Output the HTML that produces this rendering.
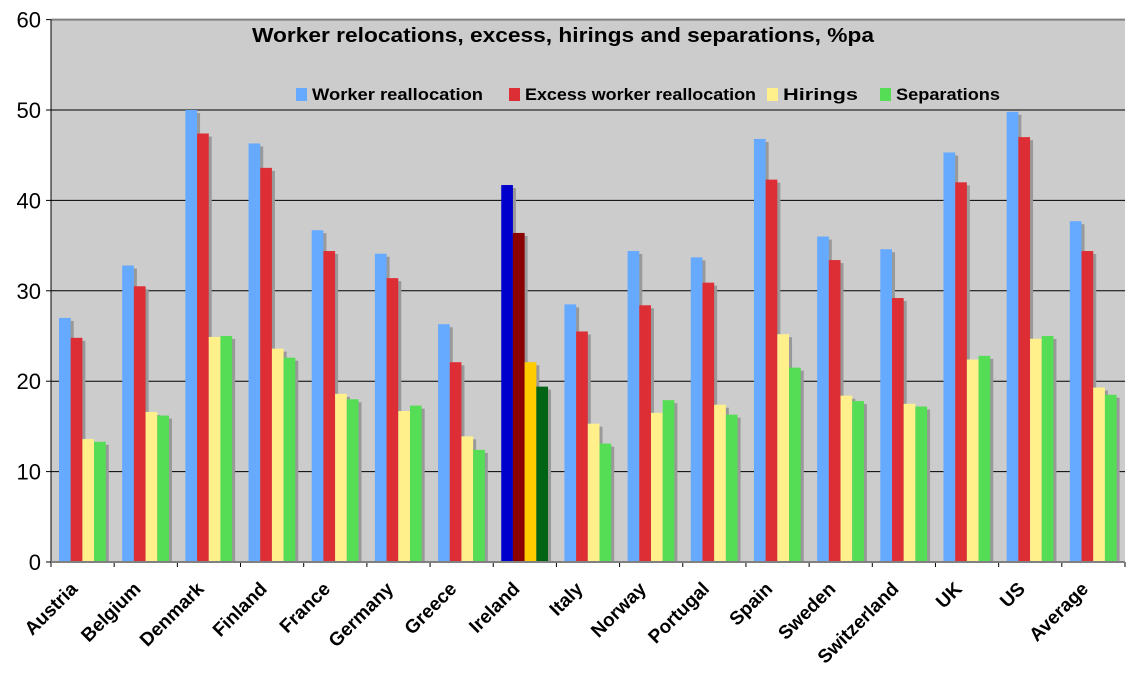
<!DOCTYPE html>
<html><head><meta charset="utf-8"><style>
body{margin:0;background:#fff;font-family:"Liberation Sans",sans-serif}
</style></head><body>
<svg id="c" width="1130" height="679" xmlns="http://www.w3.org/2000/svg"></svg>
<script>
const categories=["Austria","Belgium","Denmark","Finland","France","Germany","Greece","Ireland","Italy","Norway","Portugal","Spain","Sweden","Switzerland","UK","US","Average"];
const workerRealloc=[27,32.8,50,46.3,36.7,34.1,26.3,41.7,28.5,34.4,33.7,46.8,36,34.6,45.3,49.8,37.7];
const excessRealloc=[24.8,30.5,47.4,43.6,34.4,31.4,22.1,36.4,25.5,28.4,30.9,42.3,33.4,29.2,42,47,34.4];
const hirings=[13.6,16.6,24.9,23.6,18.6,16.7,13.9,22.1,15.3,16.5,17.4,25.2,18.4,17.5,22.4,24.7,19.3];
const separations=[13.3,16.2,25,22.6,18,17.3,12.4,19.4,13.1,17.9,16.3,21.5,17.8,17.2,22.8,25,18.5];
const yTicks=[0,10,20,30,40,50,60];
const series=[workerRealloc,excessRealloc,hirings,separations];
const names=["Worker reallocation","Excess worker reallocation","Hirings","Separations"];
const colors=["#66aaff","#dd2e35","#fff08c","#55dd55"];
const irelandColors=["#0000cc","#8b0000","#ffcc00","#006414"];
const NS="http://www.w3.org/2000/svg";
const svg=document.getElementById('c');
const L=51,R=1125,T=19.6,B=562;
const y=v=>B-(v/60)*(B-T);
const cw=(R-L)/categories.length;
const x=i=>L+i*cw;
function mk(t,a){const e=document.createElementNS(NS,t);for(const k in a)e.setAttribute(k,a[k]);svg.appendChild(e);return e;}
let e=mk('rect',{x:L,y:T,width:R-L,height:B-T,fill:'#cccccc'});

mk('line',{x1:L,y1:T,x2:R,y2:T,stroke:'#808080','stroke-width':2});
yTicks.forEach(t=>{
 if(t>0&&t<60){const g=mk('line',{x1:L,y1:y(t),x2:R,y2:y(t),stroke:'#000','stroke-width':1});}
 mk('line',{x1:L-5,y1:y(t),x2:L,y2:y(t),stroke:'#000'});
 const tx=mk('text',{x:L-10,y:y(t)+8,'text-anchor':'end','font-size':22});tx.textContent=t;
 
});
const bw=11.7;
categories.forEach((c,i)=>{
 series.forEach((s,j)=>{
  const bx=x(i)+8+j*bw, by=y(s[i]);
  mk('rect',{x:bx+3,y:by+3,width:bw,height:B-by-3,fill:'#999999'});
  const r=mk('rect',{x:bx,y:by,width:bw,height:B-by,fill:c==="Ireland"?irelandColors[j]:colors[j]});
  
  
 });
 mk('line',{x1:x(i),y1:B,x2:x(i),y2:B+5,stroke:'#000'});
 const tx=mk('text',{x:0,y:0,'text-anchor':'end','font-size':19,'font-weight':'bold',transform:`translate(${x(i)+cw/2-4},${B+28}) rotate(-45)`});
 tx.textContent=c;
 
});
mk('line',{x1:R,y1:B,x2:R,y2:B+5,stroke:'#000'});
mk('line',{x1:L,y1:T,x2:L,y2:B,stroke:'#000'});
mk('line',{x1:L,y1:B,x2:R,y2:B,stroke:'#808080','stroke-width':2});
const title=mk('text',{x:252,y:42,'font-size':20,'font-weight':'bold',textLength:622,lengthAdjust:'spacingAndGlyphs'});
title.textContent="Worker relocations, excess, hirings and separations, %pa";

const lx=[296,509,767,880];
const lw=[171,231,75,104];
names.forEach((n,j)=>{
 const r=mk('rect',{x:lx[j],y:88,width:11,height:13,fill:colors[j]});
 
 const t=mk('text',{x:lx[j]+16,y:100,'font-size':17,'font-weight':'bold',textLength:lw[j],lengthAdjust:'spacingAndGlyphs'});t.textContent=n;
 
});
</script>
</body></html>
